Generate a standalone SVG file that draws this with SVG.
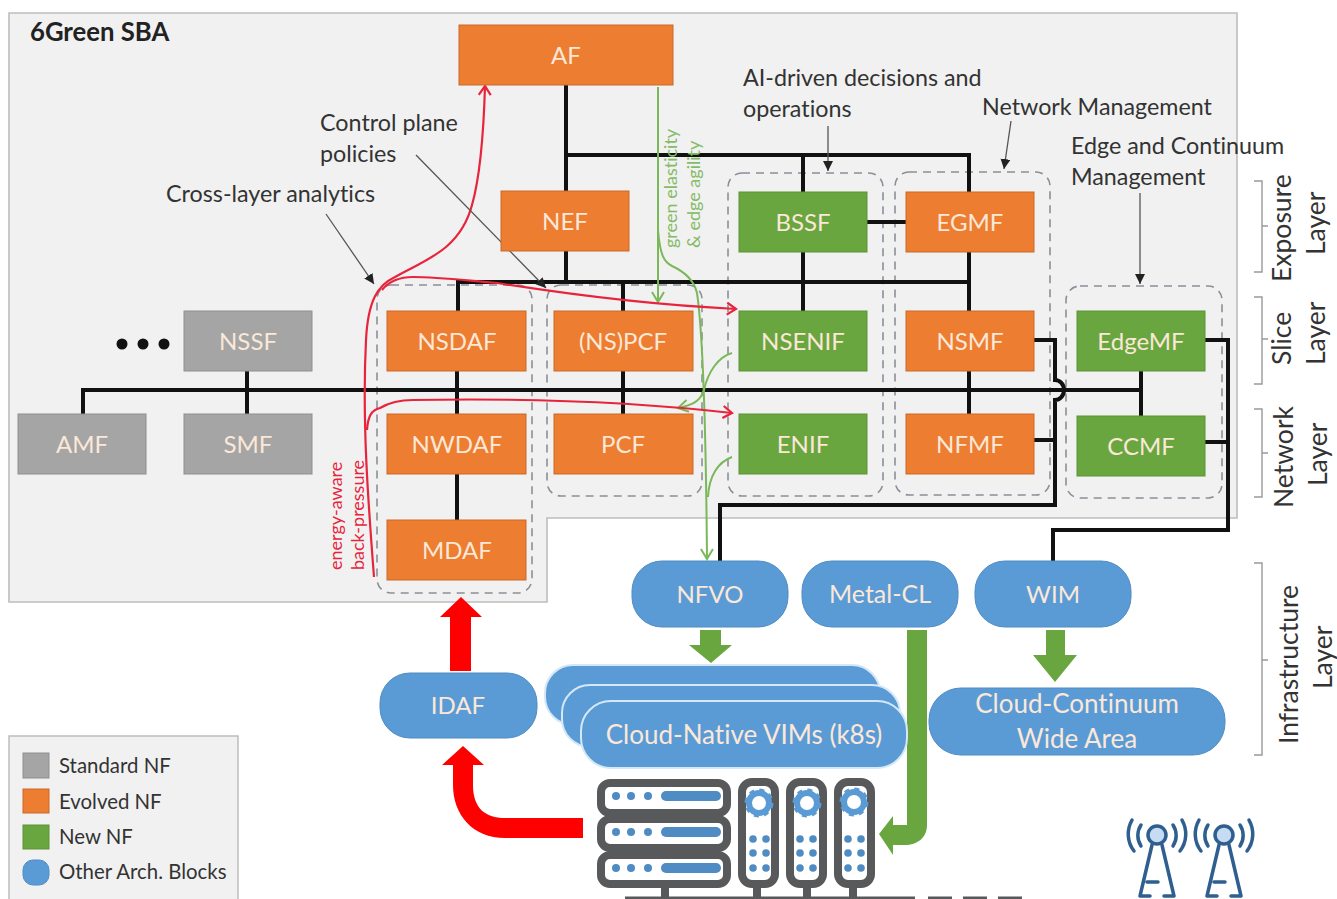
<svg xmlns="http://www.w3.org/2000/svg" width="1337" height="899" viewBox="0 0 1337 899">
<style>
text{font-family:Lato,"Liberation Sans",sans-serif;font-variant-ligatures:none;}
.n{font-size:24px;fill:#fbe8d8;text-anchor:middle;}
.o{fill:#ed7d31;stroke:#c96a2a;stroke-width:1;}
.g{fill:#6aa63f;stroke:#5c9436;stroke-width:1;}
.s{fill:#a5a5a5;stroke:#8f8f8f;stroke-width:1;}
.b{fill:#5b9bd5;stroke:#4f8cc4;stroke-width:1;}
.st{fill:#5b9bd5;stroke:#d5e8f7;stroke-width:2;}
.lb{font-size:23.3px;fill:#333;}
.ly{font-size:26.5px;fill:#333;}
.lg{font-size:20.4px;fill:#333;}
.rt{font-size:18px;}
.dash{fill:none;stroke:#8a8f98;stroke-width:1.6;stroke-dasharray:8 6;}
.k{fill:none;stroke:#111;stroke-width:4;}
.r{fill:none;stroke:#e8243c;stroke-width:2.2;}
.gl{fill:none;stroke:#7ab85a;stroke-width:2;}
.thin{fill:none;stroke:#555;stroke-width:1.3;}
.br{fill:none;stroke:#999;stroke-width:1.4;}
.srv{fill:#fff;stroke:#58595b;stroke-width:8;}
.dot{fill:#4f8cc4;}
.tw{fill:none;stroke:#2f5f8f;stroke-width:3.5;stroke-linecap:round;}
</style>
<defs>
<marker id="ar" markerWidth="12" markerHeight="14" refX="10" refY="7" orient="auto" markerUnits="userSpaceOnUse"><path d="M1 1L10 7L1 13" fill="none" stroke="#e8243c" stroke-width="2.2"/></marker>
<marker id="ag" markerWidth="14" markerHeight="14" refX="11" refY="7" orient="auto" markerUnits="userSpaceOnUse"><path d="M1 1L11 7L1 13" fill="none" stroke="#7ab85a" stroke-width="2"/></marker>
<marker id="ak" markerWidth="12" markerHeight="12" refX="10" refY="5" orient="auto" markerUnits="userSpaceOnUse"><path d="M0 0L10 5L0 10Z" fill="#222"/></marker>
<g id="gear"><circle r="10" fill="none" stroke="#5b9bd5" stroke-width="6"/><circle r="13" fill="none" stroke="#5b9bd5" stroke-width="3" stroke-dasharray="5 5.2"/></g>
</defs>
<rect width="1337" height="899" fill="#fff"/>
<path d="M9 13H1237V518H547V602H9Z" fill="#f1f1f1" stroke="#bdbdbd" stroke-width="1.6"/>
<text x="30" y="41" font-size="25.7" font-weight="700" fill="#222">6Green SBA</text>

<g id="groups">
<rect class="dash" x="377" y="285" width="155" height="308" rx="14"/>
<rect class="dash" x="547" y="285" width="155" height="211" rx="14"/>
<rect class="dash" x="728" y="173" width="155" height="323" rx="14"/>
<rect class="dash" x="895" y="172" width="155" height="323" rx="14"/>
<rect class="dash" x="1066" y="286" width="156" height="212" rx="14"/>
</g>

<g id="connectors">
<path class="k" d="M566 85V282M566 155H969V192M803 155V192M867 222H906M969 252V311M803 252V311M458 311V282H969M623 282V311"/>
<path class="k" d="M457 371V520M623 371V414M969 371V414M83 414V390H1141M247 371V414M1141 371V416"/>
<path class="k" d="M1034 340H1055V380A9 10 0 0 1 1055 400V505H720V561"/>
<path class="k" d="M1034 440H1055M1205 340H1228V530H1053V561M1205 442H1228"/>
<path class="gl" d="M658 87V302" marker-end="url(#ag)"/>
<path class="gl" d="M658 230C660 255 664 262 672 266C685 272 694 280 697 293C704 340 706 440 707 559" marker-end="url(#ag)"/>
<path class="gl" d="M732 353C718 357 708 372 704 390C700 402 692 405 678 408" marker-end="url(#ag)"/>
<path class="gl" d="M732 457C718 462 709 476 708 497"/>
<path class="r" d="M374 577C368 500 362 420 366 340C368 300 378 285 395 277C425 260 460 250 472 205C482 170 484 120 485 86" marker-end="url(#ar)"/>
<path class="r" d="M382 290C390 280 400 277 413 277C440 277 470 281 497 283C560 293 650 305 736 309" marker-end="url(#ar)"/>
<path class="r" d="M367 430C368 415 372 410 380 408C390 402 400 400 413 400C470 399 600 398 732 413" marker-end="url(#ar)"/>
<path class="thin" d="M416 155L546 288" marker-end="url(#ak)"/>
<path class="thin" d="M326 214L374 284" marker-end="url(#ak)"/>
<path class="thin" d="M1011 121L1004 169" marker-end="url(#ak)"/>
<path class="thin" d="M828 126V171" marker-end="url(#ak)"/>
<path class="thin" d="M1140 193V284" marker-end="url(#ak)"/>
<path fill="#ff0000" d="M450 671V617H440L461 597L482 617H471V671Z"/>
<path fill="#ff0000" d="M583 818V838H505C473 838 453 815 453 785V765H442L463 746L484 765H473V785C473 808 485 818 505 818Z"/>
<path fill="#6aa63f" d="M700 630H721V645H732L711 663L689 645H700Z"/>
<path fill="#6aa63f" d="M1046 630H1065V655H1077L1055 682L1033 655H1046Z"/>
<path fill="#6aa63f" d="M907 630H927V825C927 838 917 845 905 845H893V855L879 834L893 816V825H907Z"/>
</g>

<g id="node-AF"><rect class="o" x="459" y="25" width="214" height="60"/><text class="n" x="566" y="64">AF</text></g>
<g id="node-NEF"><rect class="o" x="501" y="191" width="128" height="60"/><text class="n" x="565" y="230">NEF</text></g>
<g id="node-BSSF"><rect class="g" x="739" y="192" width="128" height="60"/><text class="n" x="803" y="231">BSSF</text></g>
<g id="node-EGMF"><rect class="o" x="906" y="192" width="128" height="60"/><text class="n" x="970" y="231">EGMF</text></g>
<g id="node-NSSF"><rect class="s" x="184" y="311" width="128" height="60"/><text class="n" x="248" y="350">NSSF</text></g>
<g id="node-NSDAF"><rect class="o" x="387" y="311" width="139" height="60"/><text class="n" x="457" y="350">NSDAF</text></g>
<g id="node-NSPCF"><rect class="o" x="554" y="311" width="139" height="60"/><text class="n" x="623" y="350">(NS)PCF</text></g>
<g id="node-NSENIF"><rect class="g" x="739" y="311" width="128" height="60"/><text class="n" x="803" y="350">NSENIF</text></g>
<g id="node-NSMF"><rect class="o" x="906" y="311" width="128" height="60"/><text class="n" x="970" y="350">NSMF</text></g>
<g id="node-EdgeMF"><rect class="g" x="1077" y="311" width="128" height="60"/><text class="n" x="1141" y="350">EdgeMF</text></g>
<g id="node-AMF"><rect class="s" x="18" y="414" width="128" height="60"/><text class="n" x="82" y="453">AMF</text></g>
<g id="node-SMF"><rect class="s" x="184" y="414" width="128" height="60"/><text class="n" x="248" y="453">SMF</text></g>
<g id="node-NWDAF"><rect class="o" x="387" y="414" width="139" height="60"/><text class="n" x="457" y="453">NWDAF</text></g>
<g id="node-PCF"><rect class="o" x="554" y="414" width="139" height="60"/><text class="n" x="623" y="453">PCF</text></g>
<g id="node-ENIF"><rect class="g" x="739" y="414" width="128" height="60"/><text class="n" x="803" y="453">ENIF</text></g>
<g id="node-NFMF"><rect class="o" x="906" y="414" width="128" height="60"/><text class="n" x="970" y="453">NFMF</text></g>
<g id="node-CCMF"><rect class="g" x="1077" y="416" width="128" height="60"/><text class="n" x="1141" y="455">CCMF</text></g>
<g id="node-MDAF"><rect class="o" x="387" y="520" width="139" height="60"/><text class="n" x="457" y="559">MDAF</text></g>

<g id="node-NFVO"><rect class="b" x="632" y="561" width="156" height="66" rx="30"/><text class="n" x="710" y="603">NFVO</text></g>
<g id="node-MetalCL"><rect class="b" x="802" y="561" width="156" height="66" rx="30"/><text class="n" x="880" y="603" style="font-size:25px">Metal-CL</text></g>
<g id="node-WIM"><rect class="b" x="975" y="561" width="156" height="66" rx="30"/><text class="n" x="1053" y="603">WIM</text></g>
<g id="node-IDAF"><rect class="b" x="380" y="673" width="157" height="65" rx="30"/><text class="n" x="458" y="714">IDAF</text></g>
<g id="node-VIMs">
<rect class="st" x="545" y="665" width="335" height="60" rx="28"/>
<rect class="st" x="562" y="685" width="338" height="62" rx="28"/>
<rect class="st" x="581" y="701" width="326" height="67" rx="30"/>
<text class="n" x="744" y="744" style="font-size:26px">Cloud-Native VIMs (k8s)</text>
</g>
<g id="node-Cloud"><rect class="b" x="929" y="688" width="296" height="67" rx="32"/><text class="n" x="1077" y="713" style="font-size:26px">Cloud-Continuum</text><text class="n" x="1077" y="748" style="font-size:26px">Wide Area</text></g>

<g id="servers">
<path d="M625 898H915M928 898H952M963 898H987M998 898H1022" stroke="#58595b" stroke-width="3"/>
<path d="M665 884V898M757 884V898M807 884V898M853 884V898" stroke="#58595b" stroke-width="8"/>
<rect class="srv" x="601" y="783" width="126" height="30" rx="9"/>
<rect class="srv" x="601" y="819" width="126" height="29" rx="9"/>
<rect class="srv" x="601" y="855" width="126" height="29" rx="9"/>
<g class="dot"><circle cx="616" cy="796" r="4"/><circle cx="631" cy="796" r="4"/><circle cx="648" cy="796" r="4"/><rect x="661" y="791" width="60" height="10" rx="5"/>
<circle cx="616" cy="832" r="4"/><circle cx="631" cy="832" r="4"/><circle cx="648" cy="832" r="4"/><rect x="661" y="827" width="60" height="10" rx="5"/>
<circle cx="616" cy="868" r="4"/><circle cx="631" cy="868" r="4"/><circle cx="648" cy="868" r="4"/><rect x="661" y="863" width="60" height="10" rx="5"/></g>
<rect class="srv" x="742" y="782" width="33" height="102" rx="10"/>
<rect class="srv" x="790" y="782" width="33" height="102" rx="10"/>
<rect class="srv" x="838" y="782" width="33" height="102" rx="10"/>
<use href="#gear" x="759" y="803"/><use href="#gear" x="807" y="803"/><use href="#gear" x="854" y="802"/>
<g class="dot"><circle cx="753" cy="839" r="3.8"/><circle cx="766" cy="839" r="3.8"/><circle cx="753" cy="853" r="3.8"/><circle cx="766" cy="853" r="3.8"/><circle cx="753" cy="868" r="3.8"/><circle cx="766" cy="868" r="3.8"/>
<circle cx="800" cy="839" r="3.8"/><circle cx="813" cy="839" r="3.8"/><circle cx="800" cy="853" r="3.8"/><circle cx="813" cy="853" r="3.8"/><circle cx="800" cy="868" r="3.8"/><circle cx="813" cy="868" r="3.8"/>
<circle cx="848" cy="839" r="3.8"/><circle cx="861" cy="839" r="3.8"/><circle cx="848" cy="853" r="3.8"/><circle cx="861" cy="853" r="3.8"/><circle cx="848" cy="868" r="3.8"/><circle cx="861" cy="868" r="3.8"/></g>
</g>

<g id="towers">
<circle cx="1157" cy="835" r="9" fill="#c5dcf2" stroke="#2f5f8f" stroke-width="3.5"/>
<path class="tw" d="M1152 845L1140 896M1162 845L1174 896M1147 882H1158M1140 896H1150M1164 896H1174"/>
<path class="tw" d="M1141 825A19 19 0 0 0 1141 846M1132 820A28 28 0 0 0 1134 851M1173 825A19 19 0 0 1 1173 846M1182 820A28 28 0 0 1 1180 851"/>
<circle cx="1224" cy="835" r="9" fill="#c5dcf2" stroke="#2f5f8f" stroke-width="3.5"/>
<path class="tw" d="M1219 845L1207 896M1229 845L1241 896M1214 882H1225M1207 896H1217M1231 896H1241"/>
<path class="tw" d="M1208 825A19 19 0 0 0 1208 846M1199 820A28 28 0 0 0 1201 851M1240 825A19 19 0 0 1 1240 846M1249 820A28 28 0 0 1 1247 851"/>
</g>

<g id="dots" fill="#111"><circle cx="122" cy="344" r="5.5"/><circle cx="143" cy="344" r="5.5"/><circle cx="164" cy="344" r="5.5"/></g>

<g id="labels">
<text class="lb" x="743" y="86">AI-driven decisions and</text>
<text class="lb" x="743" y="117">operations</text>
<text class="lb" x="982" y="115">Network Management</text>
<text class="lb" x="1071" y="154">Edge and Continuum</text>
<text class="lb" x="1071" y="185">Management</text>
<text class="lb" x="320" y="131">Control plane</text>
<text class="lb" x="320" y="162">policies</text>
<text class="lb" x="166" y="202">Cross-layer analytics</text>
<text class="rt" transform="translate(677 248) rotate(-90)" fill="#84bb66">green elasticity</text>
<text class="rt" transform="translate(700 248) rotate(-90)" fill="#84bb66">&amp; edge agility</text>
<text class="rt" transform="translate(342 570) rotate(-90)" fill="#e8243c">energy-aware</text>
<text class="rt" transform="translate(364 570) rotate(-90)" fill="#e8243c">back-pressure</text>
</g>

<g id="layers">
<path class="br" d="M1254 181H1262V272H1254M1262 226H1268"/>
<path class="br" d="M1254 297H1262V384H1254M1262 339H1268"/>
<path class="br" d="M1254 409H1262V497H1254M1262 453H1268"/>
<path class="br" d="M1254 563H1262V755H1254M1262 660H1268"/>
<text class="ly" transform="translate(1291 282) rotate(-90)">Exposure</text>
<text class="ly" transform="translate(1325 255) rotate(-90)">Layer</text>
<text class="ly" transform="translate(1291 365) rotate(-90)">Slice</text>
<text class="ly" transform="translate(1325 365) rotate(-90)">Layer</text>
<text class="ly" transform="translate(1293 508) rotate(-90)">Network</text>
<text class="ly" transform="translate(1327 486) rotate(-90)">Layer</text>
<text class="ly" transform="translate(1298 744) rotate(-90)">Infrastructure</text>
<text class="ly" transform="translate(1332 689) rotate(-90)">Layer</text>
</g>

<g id="legend">
<rect x="9" y="736" width="229" height="170" fill="#f1f1f1" stroke="#bdbdbd" stroke-width="1.5"/>
<rect class="s" x="23" y="753" width="26" height="25"/>
<rect class="o" x="23" y="789" width="26" height="24"/>
<rect class="g" x="23" y="825" width="26" height="24"/>
<rect class="b" x="23" y="860" width="26" height="25" rx="10"/>
<text class="lg" x="59" y="773">Standard NF</text>
<text class="lg" x="59" y="809">Evolved NF</text>
<text class="lg" x="59" y="844">New NF</text>
<text class="lg" x="59" y="879">Other Arch. Blocks</text>
</g>
</svg>
